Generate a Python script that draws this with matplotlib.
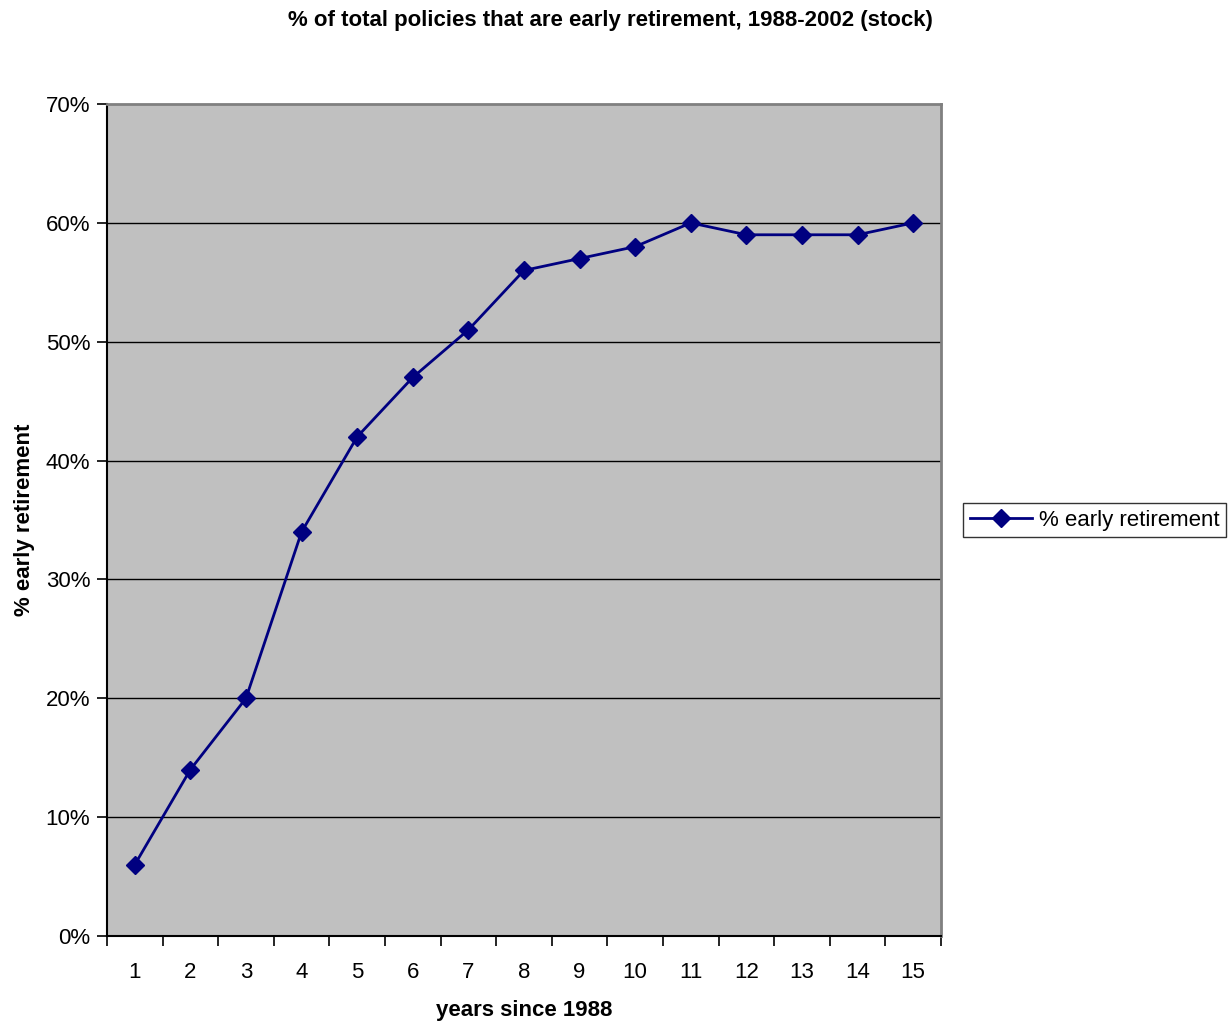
import matplotlib
matplotlib.use("Agg")
from matplotlib import pyplot as plt
import numpy as np

years = list(range(1, 16))
early = [6, 14, 20, 34, 42, 47, 51, 56, 57, 58, 60, 59, 59, 59, 60]
yticks = [0, 10, 20, 30, 40, 50, 60, 70]

plt.rcParams['font.family'] = ['Liberation Sans', 'DejaVu Sans']

fig = plt.figure(figsize=(12.31, 10.27), dpi=100)
ax = fig.add_axes([0.0869, 0.0886, 0.6775, 0.8101])
ax.set_facecolor('#C0C0C0')

ax.plot(years, early, color='#000080', lw=2, marker='D', ms=9,
        markerfacecolor='#000080', markeredgecolor='#000080',
        label='% early retirement', zorder=3, clip_on=False)

ax.set_xlim(0.5, 15.5)
ax.set_ylim(0, 70)
ax.set_yticks(yticks)
ax.set_yticklabels([f'{v}%' for v in yticks], fontsize=16)
ax.set_xticks(years)
ax.set_xticklabels([str(v) for v in years], fontsize=16)
ax.set_xticks(np.arange(0.5, 16, 1), minor=True)
ax.tick_params(axis='x', which='major', length=0, pad=19)
ax.tick_params(axis='x', which='minor', length=7, width=1.2, direction='out', color='black')
ax.tick_params(axis='y', length=7, width=1.2, direction='out', color='black', pad=5)

for v in yticks[1:-1]:
    ax.axhline(v, color='black', lw=1, zorder=1)

for side in ['top', 'right']:
    ax.spines[side].set_color('#808080')
    ax.spines[side].set_linewidth(2)
for side in ['left', 'bottom']:
    ax.spines[side].set_color('black')
    ax.spines[side].set_linewidth(1.5)

ax.set_xlabel('years since 1988', fontsize=16, fontweight='bold', labelpad=12)
ax.set_ylabel('% early retirement', fontsize=16, fontweight='bold', labelpad=8)
fig.text(0.4955, 0.980, '% of total policies that are early retirement, 1988-2002 (stock)',
         ha='center', va='center', fontsize=16, fontweight='bold')

leg = ax.legend(loc='center left', bbox_to_anchor=(1.027, 0.5), fontsize=16,
                frameon=True, fancybox=False, edgecolor='black', borderpad=0.3,
                handlelength=2.8, handletextpad=0.3, borderaxespad=0)
leg.get_frame().set_linewidth(1)

fig.savefig('out.png', dpi=100)
